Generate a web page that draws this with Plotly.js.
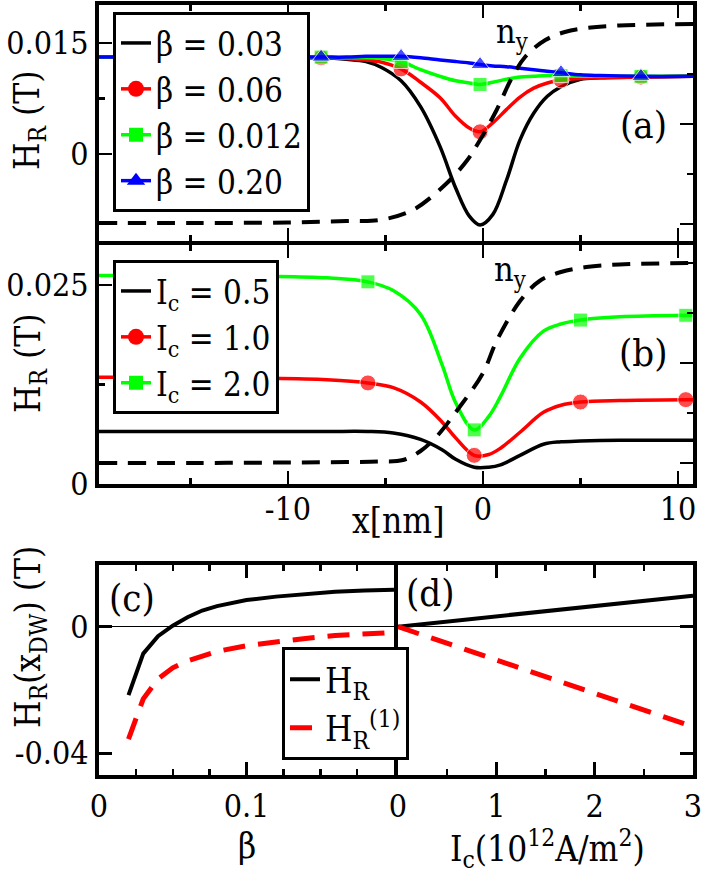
<!DOCTYPE html>
<html>
<head>
<meta charset="utf-8">
<script src="https://cdn.plot.ly/plotly-3.0.1.min.js"></script>
<style>body{margin:0;background:#fff}</style>
</head>
<body>
<div id="myPlot" style="width:706px;height:883px"></div>
<script>
// (a) H_R(x) for different beta, Ic fixed
let xA = [-19.7, -16.5, -12.4, -8.3, -7, -6, -5.2, -4.2, -3.2, -2.2, -1.4, -0.7, -0.15, 0.5, 1.2, 1.9, 2.6, 3.3, 4.0, 5.0, 6.0, 8.1, 10.8]
let markA = [-16.5, -12.4, -8.3, -4.2, -0.15, 4.0, 8.1]
let hBeta003 = [0.0131, 0.0131, 0.0131, 0.0130, 0.0128, 0.0125, 0.0117, 0.0099, 0.0064, 0.0010, -0.0046, -0.0084, -0.0096, -0.0082, -0.0036, 0.0019, 0.0055, 0.0078, 0.0091, 0.0101, 0.0103, 0.0104, 0.0105]
let hBeta006 = [0.0131, 0.0131, 0.0131, 0.0130, 0.0129, 0.0127, 0.0124, 0.0115, 0.0097, 0.0076, 0.0051, 0.0035, 0.0030, 0.0042, 0.0060, 0.0077, 0.0089, 0.0096, 0.0100, 0.0102, 0.0103, 0.0104, 0.0105]
let hBeta0012 = [0.0131, 0.0131, 0.0131, 0.0131, 0.0130, 0.0130, 0.0129, 0.0125, 0.0114, 0.0105, 0.0099, 0.0096, 0.0094, 0.0097, 0.0101, 0.0104, 0.0105, 0.0106, 0.0106, 0.0105, 0.0105, 0.0105, 0.0105]
let hBeta020 = [0.0131, 0.0131, 0.0131, 0.0131, 0.0131, 0.0132, 0.0132, 0.0132, 0.0130, 0.0127, 0.0125, 0.0123, 0.0121, 0.0119, 0.0118, 0.0116, 0.0114, 0.0112, 0.0110, 0.0107, 0.0106, 0.0105, 0.0105]
let nyXA = [-19.7, -15, -10, -7, -5.3, -3.6, -1.9, -0.8, -0.15, 0.7, 1.5, 2.2, 3.2, 4.2, 5.3, 7, 10.8]
let nyA = [-0.99, -0.99, -0.985, -0.97, -0.96, -0.86, -0.60, -0.36, -0.16, 0.14, 0.47, 0.68, 0.84, 0.92, 0.96, 0.985, 1.0]

// (b) H_R(x) for different Ic
let xB = [-19.7, -16.7, -11.3, -8, -5.9, -4.6, -3.2, -2.1, -1.4, -0.45, 0.3, 0.9, 1.9, 3.1, 4.0, 5.0, 7, 10.4, 10.8]
let markB = [-16.7, -11.3, -5.9, -0.45, 5.0, 10.4]
let hIc05 = [0.0066, 0.0066, 0.0066, 0.0066, 0.0066, 0.0064, 0.0056, 0.0043, 0.0031, 0.0021, 0.0021, 0.0024, 0.0036, 0.0050, 0.0053, 0.0054, 0.0055, 0.0055, 0.0055]
let hIc10 = [0.0134, 0.0134, 0.0133, 0.0131, 0.0127, 0.0121, 0.0103, 0.0078, 0.0058, 0.0036, 0.0037, 0.0045, 0.0065, 0.0090, 0.0099, 0.0103, 0.0105, 0.0106, 0.0106]
let hIc20 = [0.0262, 0.0262, 0.0261, 0.0259, 0.0254, 0.0243, 0.0213, 0.0150, 0.0102, 0.0068, 0.0085, 0.0110, 0.0158, 0.0192, 0.0201, 0.0206, 0.0210, 0.0212, 0.0212]
let nyXB = [-19.7, -15, -10, -7, -5.3, -4.1, -3.2, -2.4, -1.2, 0, 0.7, 1.9, 2.9, 4, 5.3, 7, 10.8]
let nyB = [-1.0, -1.0, -0.995, -0.99, -0.985, -0.97, -0.88, -0.74, -0.44, -0.1, 0.22, 0.62, 0.82, 0.91, 0.96, 0.985, 1.0]

// (c) H_R at the wall vs beta
let beta = [0.02, 0.03, 0.04, 0.05, 0.06, 0.07, 0.08, 0.1, 0.12, 0.14, 0.16, 0.18, 0.2]
let hrBeta = [-0.0216, -0.0085, -0.0030, 0.0003, 0.0030, 0.0051, 0.0065, 0.0084, 0.0095, 0.0103, 0.0110, 0.0114, 0.0117]
let hr1Beta = [-0.0355, -0.0228, -0.0165, -0.0130, -0.0108, -0.0091, -0.0078, -0.0060, -0.0047, -0.0037, -0.0028, -0.0022, -0.0018]

// (d) H_R at the wall vs Ic
let ic = [0, 0.5, 1, 1.5, 2, 2.5, 3]
let hrIc = [0, 0.0016, 0.0032, 0.0049, 0.0065, 0.0082, 0.0098]
let hr1Ic = [0, -0.0053, -0.0106, -0.0158, -0.0211, -0.0263, -0.0316]

const W = 706, H = 883
function fx(p){ return p / W }
function fy(p){ return 1 - p / H }
let font = 'DejaVu Serif Condensed'

// only put a symbol on the marked x positions
function sizes(xs, marks, s){
    return xs.map(v => marks.includes(v) ? s : 0)
}

function curve(xs, ys, color, xa, ya, symbol, marks, ms){
    let t = {x: xs, y: ys, xaxis: xa, yaxis: ya, showlegend: false,
        type: 'scatter', mode: 'lines', line: {color: color, width: 3.5, shape: 'spline', smoothing: 1}}
    if(symbol){
        t.mode = 'lines+markers'
        t.marker = {symbol: symbol, color: color, size: sizes(xs, marks, ms)}
    }
    return t
}
// legend entry only, no data
function key(name, color, lg, xa, ya, symbol, ms){
    let t = {x: [null], y: [null], name: name, legend: lg, xaxis: xa, yaxis: ya,
        type: 'scatter', mode: 'lines', line: {color: color, width: 3.5}}
    if(symbol){
        t.mode = 'lines+markers'
        t.marker = {symbol: symbol, color: color, size: ms}
    }
    return t
}

let data = [
    curve(xA, hBeta003, 'black', 'x', 'y'),
    curve(xA, hBeta006, '#ff0000', 'x', 'y', 'circle', markA, 16),
    curve(xA, hBeta0012, '#00ff00', 'x', 'y', 'square', markA, 14),
    curve(xA, hBeta020, '#0000ff', 'x', 'y', 'triangle-up', markA, 16),
    {x: nyXA, y: nyA, xaxis: 'x', yaxis: 'y2', showlegend: false, type: 'scatter', mode: 'lines',
        line: {color: 'black', width: 4, dash: '18px,11px', shape: 'spline'}},
    key('β = 0.03', 'black', 'legend', 'x', 'y'),
    key('β = 0.06', '#ff0000', 'legend', 'x', 'y', 'circle', 16),
    key('β = 0.012', '#00ff00', 'legend', 'x', 'y', 'square', 14),
    key('β = 0.20', '#0000ff', 'legend', 'x', 'y', 'triangle-up', 16),

    curve(xB, hIc05, 'black', 'x2', 'y3'),
    curve(xB, hIc10, '#ff0000', 'x2', 'y3', 'circle', markB, 16),
    curve(xB, hIc20, '#00ff00', 'x2', 'y3', 'square', markB, 14),
    {x: nyXB, y: nyB, xaxis: 'x2', yaxis: 'y4', showlegend: false, type: 'scatter', mode: 'lines',
        line: {color: 'black', width: 4, dash: '18px,11px', shape: 'spline'}},
    key('I<sub>c</sub> = 0.5', 'black', 'legend2', 'x2', 'y3'),
    key('I<sub>c</sub> = 1.0', '#ff0000', 'legend2', 'x2', 'y3', 'circle', 16),
    key('I<sub>c</sub> = 2.0', '#00ff00', 'legend2', 'x2', 'y3', 'square', 14),

    {x: beta, y: hrBeta, name: 'H<sub>R</sub>', xaxis: 'x3', yaxis: 'y5', legend: 'legend3',
        type: 'scatter', mode: 'lines', line: {color: 'black', width: 4}},
    {x: beta, y: hr1Beta, name: 'H<sub>R</sub><sup>(1)</sup>', xaxis: 'x3', yaxis: 'y5', legend: 'legend3',
        type: 'scatter', mode: 'lines', line: {color: '#ff0000', width: 5, dash: '22px,13px'}},
    {x: ic, y: hrIc, xaxis: 'x4', yaxis: 'y6', showlegend: false,
        type: 'scatter', mode: 'lines', line: {color: 'black', width: 4}},
    {x: ic, y: hr1Ic, xaxis: 'x4', yaxis: 'y6', showlegend: false,
        type: 'scatter', mode: 'lines', line: {color: '#ff0000', width: 5, dash: '22px,13px'}}
]

function ax(extra){
    return Object.assign({showgrid: false, zeroline: false, showline: true, linewidth: 4, linecolor: 'black',
        ticks: 'inside', ticklen: 13, tickwidth: 2.5, tickcolor: 'black',
        tickfont: {family: font, size: 32, color: 'black'}}, extra)
}
function minor(extra){
    return Object.assign({ticks: 'inside', ticklen: 6, tickwidth: 2.5, tickcolor: 'black', showgrid: false}, extra)
}
function leg(x, y, size){
    return {x: fx(x), y: fy(y), xanchor: 'left', yanchor: 'top', bgcolor: 'white', bordercolor: 'black',
        borderwidth: 3, font: {family: font, size: size, color: 'black'}, tracegroupgap: 0}
}
function note(text, x, y, size, angle){
    return {text: text, x: fx(x), y: fy(y), xref: 'paper', yref: 'paper', showarrow: false,
        xanchor: 'center', yanchor: 'middle', textangle: angle || 0, font: {family: font, size: size, color: 'black'}}
}

let layout = {
    width: W, height: H,
    margin: {l: 0, r: 0, t: 0, b: 0},
    paper_bgcolor: 'white', plot_bgcolor: 'white',
    font: {family: font, color: 'black'},
    xaxis: ax({domain: [fx(99), fx(693)], range: [-19.69, 10.77], anchor: 'y', tickvals: [-10, 0, 10],
        showticklabels: false, mirror: 'ticks', minor: minor({tickvals: [-15, -5, 5]})}),
    yaxis: ax({domain: [fy(241), fy(5)], range: [-0.01176, 0.02014], anchor: 'x', tickvals: [0, 0.015],
        ticktext: ['0', '0.015'], mirror: true, minor: minor({tickvals: [0.0075]})}),
    yaxis2: ax({overlaying: 'y', side: 'right', anchor: 'x', range: [-1.17, 1.19], tickvals: [-1, 0, 1],
        showticklabels: false, showline: false, minor: minor({tickvals: [-0.5, 0.5]})}),

    xaxis2: ax({domain: [fx(99), fx(693)], range: [-19.69, 10.77], anchor: 'y3', tickvals: [-10, 0, 10],
        ticktext: ['-10', '0', '10'], mirror: 'ticks', ticklabelstandoff: -6, minor: minor({tickvals: [-15, -5, 5]})}),
    yaxis3: ax({domain: [fy(484), fy(245)], range: [0, 0.03003], anchor: 'x2', tickvals: [0, 0.025],
        ticktext: ['0', '0.025'], mirror: true, minor: minor({tickvals: [0.0125]})}),
    yaxis4: ax({overlaying: 'y3', side: 'right', anchor: 'x2', range: [-1.21, 1.18], tickvals: [-1, 0, 1],
        showticklabels: false, showline: false, minor: minor({tickvals: [-0.5, 0.5]})}),

    xaxis3: ax({domain: [fx(99), fx(394)], range: [0, 0.2], anchor: 'y5', tickvals: [0, 0.1, 0.2],
        ticktext: ['0', '0.1', ''], mirror: 'ticks', minor: minor({dtick: 0.025, tick0: 0})}),
    yaxis5: ax({domain: [fy(775), fy(565)], range: [-0.04686, 0.01949], anchor: 'x3', tickvals: [-0.04, 0],
        ticktext: ['-0.04', '0'], mirror: true, zeroline: true, zerolinewidth: 1.5, zerolinecolor: 'black'}),
    xaxis4: ax({domain: [fx(398), fx(693)], range: [0, 3], anchor: 'y6', tickvals: [0, 1, 2, 3],
        mirror: 'ticks', minor: minor({dtick: 0.5, tick0: 0})}),
    yaxis6: ax({domain: [fy(775), fy(565)], range: [-0.04686, 0.01949], anchor: 'x4', side: 'right',
        tickvals: [-0.04, 0], showticklabels: false, mirror: true, zeroline: true, zerolinewidth: 1.5, zerolinecolor: 'black'}),

    legend: leg(113, 12, 33),
    legend2: leg(113, 260, 33),
    legend3: leg(282, 647, 35),

    annotations: [
        note('(a)', 643, 125, 38),
        note('(b)', 643, 353, 38),
        note('(c)', 132, 598, 38),
        note('(d)', 431, 593, 38),
        note('n<sub>y</sub>', 512, 33, 34),
        note('n<sub>y</sub>', 510, 272, 34),
        note('H<sub>R</sub> (T)', 30, 120, 35, -90),
        note('H<sub>R</sub> (T)', 30, 363, 35, -90),
        note('H<sub>R</sub>(x<sub>DW</sub>) (T)', 30, 637, 35, -90),
        note('x[nm]', 398, 521, 35),
        note('β', 247, 846, 35),
        note('I<sub>c</sub>(10<sup>12</sup>A/m<sup>2</sup>)', 547, 848, 35)
    ]
}

Plotly.newPlot('myPlot', data, layout, {staticPlot: true})
</script>
</body>
</html>
